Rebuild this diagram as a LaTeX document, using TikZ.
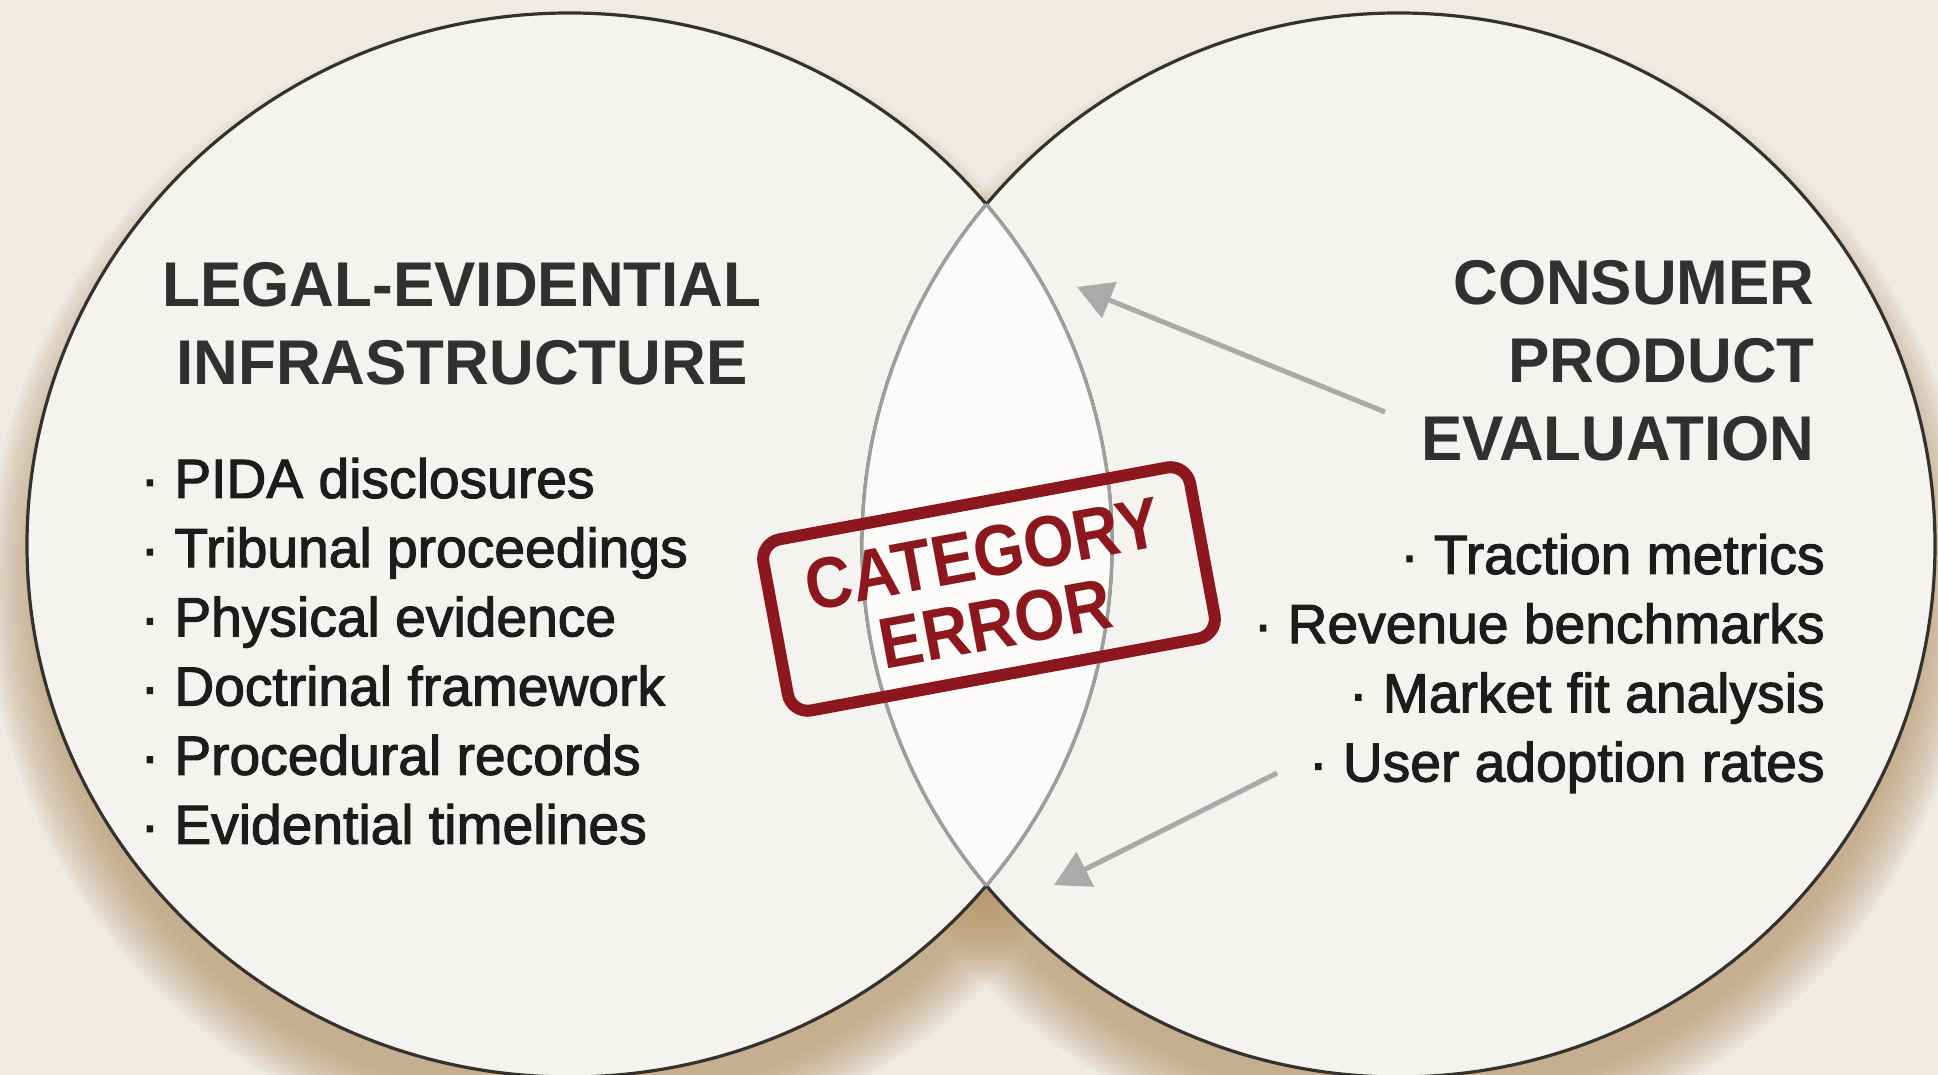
\documentclass[tikz,border=0pt]{standalone}
\usepackage{fontspec}
\setmainfont{Liberation Sans}
\newfontfamily\headfont[FakeStretch=0.98]{Liberation Sans}
\newfontfamily\listfont[FakeBold=2]{Liberation Sans}
\newfontfamily\stampfont[FakeStretch=0.9]{Liberation Sans}
\usetikzlibrary{positioning,arrows.meta}

\definecolor{paper}{RGB}{238,235,229}
\definecolor{discfill}{RGB}{245,243,239}
\definecolor{lensfill}{RGB}{252,251,249}
\definecolor{rimdark}{RGB}{52,50,47}
\definecolor{rimgray}{RGB}{158,158,158}
\definecolor{tan}{RGB}{185,152,108}
\definecolor{stampred}{RGB}{140,24,30}
\definecolor{pointgray}{RGB}{170,170,170}
\definecolor{inkdark}{RGB}{28,28,28}
\definecolor{inktitle}{RGB}{48,48,48}

\begin{document}
\begin{tikzpicture}[x=0.5pt,y=0.5pt,
title node/.style={inner sep=0pt,text=inktitle,font=\headfont\bfseries\fontsize{31.6}{39}\selectfont},
list node/.style={inner sep=0pt,text=inkdark,font=\listfont\fontsize{27.6}{34.6}\selectfont},
stamp node/.style={draw=stampred,text=stampred,line width=6pt,rounded corners=10pt,
  rotate=10.5,align=center,minimum width=217pt,minimum height=87pt,inner sep=0pt,
  font=\stampfont\bfseries\fontsize{36}{35.7}\selectfont},
pointer/.style={-{Triangle[length=17.5pt,width=19pt]},line width=2.5pt,pointgray},
rim/.style={draw=rimdark,line width=1.6pt},
lensrim/.style={draw=rimgray,line width=1.7pt}]

\useasboundingbox (0,0) rectangle (1938,1075);
\fill[paper] (0,0) rectangle (1938,1075);

% centres of the two sets
\coordinate (lc) at (569.5,530);
\coordinate (rc) at (1398.5,530);
\coordinate (ls) at (569.5,490);
\coordinate (rs) at (1398.5,490);

% soft shadow
\foreach \s in {0,...,15}
{
\fill[tan,opacity=0.065] (ls) ellipse [x radius=530+3.5*\s, y radius=520+3.5*\s];
\fill[tan,opacity=0.065] (rs) ellipse [x radius=524+3.5*\s, y radius=520+3.5*\s];
}

% discs
\fill[discfill] (lc) ellipse [x radius=542.5, y radius=532];
\fill[discfill] (rc) ellipse [x radius=536.5, y radius=532];
\draw[rim] (lc) ellipse [x radius=542.5, y radius=532];
\draw[rim] (rc) ellipse [x radius=536.5, y radius=532];

% overlap
\begin{scope}
\clip (lc) ellipse [x radius=542.5, y radius=532];
\fill[lensfill] (rc) ellipse [x radius=536.5, y radius=532];
\draw[lensrim] (rc) ellipse [x radius=536.5, y radius=532];
\end{scope}
\begin{scope}
\clip (rc) ellipse [x radius=536.5, y radius=532];
\draw[lensrim] (lc) ellipse [x radius=542.5, y radius=532];
\end{scope}

% titles and lists
\node[title node,align=center,anchor=north] (legal) at (462,813)
  {LEGAL-EVIDENTIAL\\INFRASTRUCTURE};
\node[list node,align=left,below right=36pt and -11pt of legal.south west] (legallist)
  {· PIDA disclosures\\· Tribunal proceedings\\· Physical evidence\\
   · Doctrinal framework\\· Procedural records\\· Evidential timelines};

\node[title node,align=right,anchor=north east] (consumer) at (1815,815)
  {CONSUMER\\PRODUCT\\EVALUATION};
\node[list node,align=right,below left=36pt and -5pt of consumer.south east] (consumerlist)
  {· Traction metrics\\· Revenue benchmarks\\· Market fit analysis\\· User adoption rates};

% pointers into the overlap
\coordinate (ptopstart) at (1385,663);
\coordinate (ptoptip) at (1077,788);
\coordinate (plowstart) at (1277,302);
\coordinate (plowtip) at (1054,190);
\draw[pointer] (ptopstart) -- (ptoptip);
\draw[pointer] (plowstart) -- (plowtip);

% stamp
\node[stamp node] (stamp) at (989,486) {CATEGORY\\ERROR};

\end{tikzpicture}
\end{document}
